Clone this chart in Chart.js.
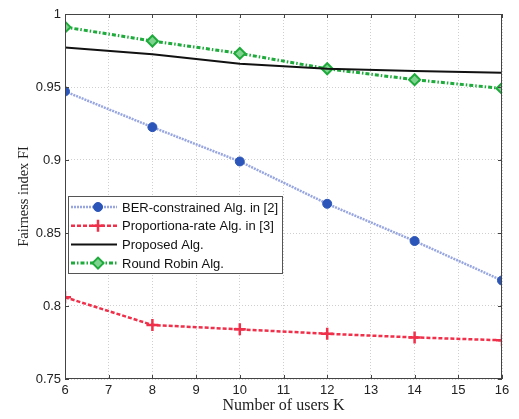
<!DOCTYPE html>
<html><head><meta charset="utf-8">
<script src="https://cdn.jsdelivr.net/npm/chart.js@4/dist/chart.umd.min.js"></script>
<style>html,body{margin:0;padding:0;background:#fff}#wrap{width:519px;height:419px}</style>
</head><body><div id="wrap"><canvas id="c" width="519" height="419"></canvas></div>
<script>
const users = [6, 8, 10, 12, 14, 16];
const berAlg = [0.947, 0.9225, 0.899, 0.870, 0.8445, 0.8175];
const propRate = [0.806, 0.787, 0.784, 0.781, 0.7785, 0.7765];
const proposed = [0.977, 0.9725, 0.966, 0.9625, 0.961, 0.9598];
const roundRobin = [0.991, 0.9815, 0.973, 0.9625, 0.955, 0.949];
const seriesNames = ['BER-constrained Alg. in [2]', 'Proportiona-rate Alg. in [3]', 'Proposed Alg.', 'Round Robin Alg.'];
const xTicks = [6, 7, 8, 9, 10, 11, 12, 13, 14, 15, 16];
const yTicks = [0.75, 0.8, 0.85, 0.9, 0.95, 1];

const pts = arr => users.map((u, i) => ({x: u, y: arr[i]}));
const SANS = '"Liberation Sans", Arial, sans-serif';
const SERIF = '"Liberation Serif", "Times New Roman", serif';

const framePlugin = {
  id: 'frame',
  afterDatasetsDraw(chart) {
    const {ctx, chartArea: a, scales} = chart;
    ctx.save();
    ctx.strokeStyle = '#444';
    ctx.lineWidth = 1;
    ctx.strokeRect(a.left + 0.5, a.top + 0.5, a.right - a.left - 1, a.bottom - a.top - 1);
    ctx.beginPath();
    xTicks.forEach(v => {
      const x = Math.round(scales.x.getPixelForValue(v)) + 0.5;
      ctx.moveTo(x, a.bottom); ctx.lineTo(x, a.bottom - 4);
      ctx.moveTo(x, a.top); ctx.lineTo(x, a.top + 4);
    });
    yTicks.forEach(v => {
      const y = Math.round(scales.y.getPixelForValue(v)) + 0.5;
      ctx.moveTo(a.left, y); ctx.lineTo(a.left + 4, y);
      ctx.moveTo(a.right, y); ctx.lineTo(a.right - 4, y);
    });
    ctx.stroke();
    // legend
    const lx = 68, ly = 196, lw = 214, lh = 77;
    ctx.fillStyle = '#fff';
    ctx.fillRect(lx, ly, lw, lh);
    ctx.strokeStyle = '#555';
    ctx.strokeRect(lx + 0.5, ly + 0.5, lw, lh);
    ctx.font = '13px ' + SANS;
    ctx.textBaseline = 'middle';
    chart.data.datasets.forEach((ds, i) => {
      const y = ly + 11 + i * 18.7;
      ctx.save();
      ctx.strokeStyle = ds.borderColor;
      ctx.lineWidth = ds.borderWidth;
      ctx.setLineDash(ds.borderDash || []);
      ctx.beginPath(); ctx.moveTo(71, y); ctx.lineTo(117, y); ctx.stroke();
      ctx.setLineDash([]);
      if (ds.pointRadius > 0) {
        ctx.fillStyle = ds.pointBackgroundColor;
        ctx.strokeStyle = ds.pointBorderColor;
        ctx.lineWidth = ds.pointBorderWidth;
        Chart.helpers.drawPoint(ctx, {pointStyle: ds.pointStyle, radius: ds.pointRadius, rotation: 0, borderWidth: ds.pointBorderWidth}, 98, y);
      }
      ctx.restore();
      ctx.fillStyle = '#111';
      ctx.fillText(ds.label, 122, y + 1);
    });
    ctx.restore();
  }
};

new Chart(document.getElementById('c'), {
  type: 'line',
  data: {
    datasets: [
      {label: seriesNames[0], data: pts(berAlg), borderColor: '#97a6e0', borderWidth: 2.5, borderDash: [2, 1],
       pointStyle: 'circle', pointRadius: 4.5, pointBackgroundColor: '#2b55b8', pointBorderColor: '#2b55b8', pointBorderWidth: 1},
      {label: seriesNames[1], data: pts(propRate), borderColor: '#f0304a', borderWidth: 2.5, borderDash: [4, 2],
       pointStyle: 'cross', pointRadius: 6, pointBackgroundColor: '#f0304a', pointBorderColor: '#f0304a', pointBorderWidth: 2.5},
      {label: seriesNames[2], data: pts(proposed), borderColor: '#111', borderWidth: 2,
       pointRadius: 0},
      {label: seriesNames[3], data: pts(roundRobin), borderColor: '#1fab3c', borderWidth: 3, borderDash: [4, 2, 1.5, 2],
       pointStyle: 'rectRot', pointRadius: 5.5, pointBackgroundColor: '#7ed38e', pointBorderColor: '#1fab3c', pointBorderWidth: 2}
    ]
  },
  options: {
    responsive: false,
    animation: false,
    layout: {padding: {left: 0, right: 17, top: 14, bottom: 0}},
    plugins: {legend: {display: false}, tooltip: {enabled: false}},
    scales: {
      x: {
        type: 'linear', min: 6, max: 16,
        afterFit: s => { s.height = 40; },
        afterBuildTicks: s => { s.ticks = xTicks.map(v => ({value: v})); },
        grid: {color: '#cfcfcf', lineWidth: 1, tickLength: 0, drawTicks: false},
        border: {display: false, dash: [1, 2]},
        ticks: {font: {family: SANS, size: 13}, color: '#222', padding: 4, maxRotation: 0},
        title: {display: true, text: 'Number of users K', font: {family: SERIF, size: 16}, color: '#222', padding: {top: 0, bottom: 4}}
      },
      y: {
        min: 0.75, max: 1,
        afterFit: s => { s.width = 65; },
        afterBuildTicks: s => { s.ticks = yTicks.map(v => ({value: v})); },
        grid: {color: '#cfcfcf', lineWidth: 1, drawTicks: false},
        border: {display: false, dash: [1, 2]},
        ticks: {font: {family: SANS, size: 13}, color: '#222', padding: 4,
                callback: v => String(+v.toFixed(2))},
        title: {display: true, text: 'Fairness index FI', font: {family: SERIF, size: 14.5}, color: '#222', padding: {top: 15, bottom: 0}}
      }
    }
  },
  plugins: [framePlugin]
});
</script></body></html>
